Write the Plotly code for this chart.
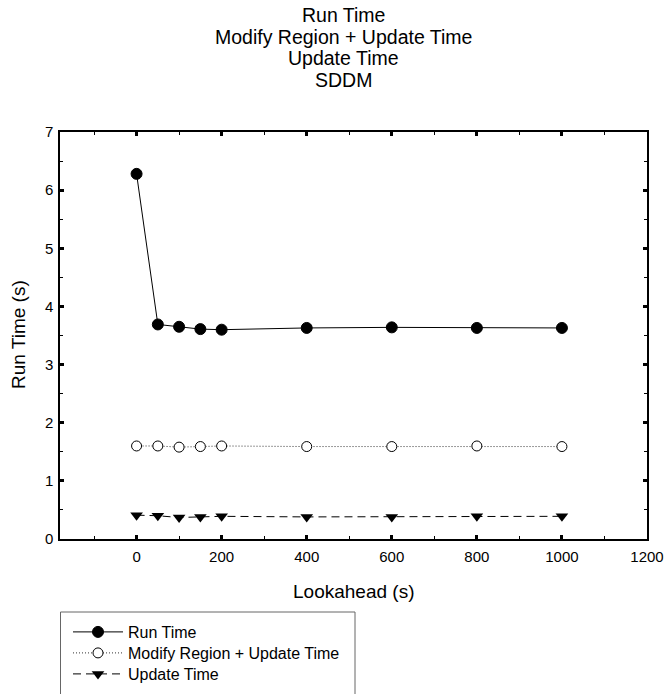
import plotly.graph_objects as go

# Lookahead values (s)
lookahead = [0, 50, 100, 150, 200, 400, 600, 800, 1000]

# Timings (s)
run_time = [6.28, 3.69, 3.65, 3.61, 3.60, 3.63, 3.64, 3.63, 3.63]
modify_update_time = [1.60, 1.60, 1.58, 1.59, 1.60, 1.59, 1.59, 1.60, 1.59]
update_time = [0.41, 0.40, 0.37, 0.38, 0.39, 0.38, 0.38, 0.39, 0.39]

title_lines = ["Run Time", "Modify Region + Update Time", "Update Time", "SDDM"]

FONT = "Liberation Sans, Arial, sans-serif"

W, H = 664, 694
ML, MR, MT, MB = 60, 17, 132, 155
PW, PH = W - ML - MR, H - MT - MB


def px_x(px):
    return (px - ML) / PW


def px_y(py):
    return (H - MB - py) / PH


fig = go.Figure()

fig.add_trace(go.Scatter(
    x=lookahead, y=run_time, name="Run Time", mode="lines+markers",
    legend="legend",
    line=dict(color="black", width=1),
    marker=dict(symbol="circle", size=11, color="black",
                line=dict(color="black", width=1)),
))
fig.add_trace(go.Scatter(
    x=lookahead, y=modify_update_time, name="Modify Region + Update Time",
    mode="lines+markers", legend="legend2",
    line=dict(color="#333333", width=1, dash="1px,2px"),
    marker=dict(symbol="circle", size=10, color="white",
                line=dict(color="black", width=1)),
))
fig.add_trace(go.Scatter(
    x=lookahead, y=update_time, name="Update Time", mode="lines+markers",
    legend="legend3",
    line=dict(color="black", width=1, dash="8px,5px"),
    marker=dict(symbol="triangle-down", size=11, color="black",
                line=dict(color="black", width=0)),
))

axis_common = dict(
    showgrid=False, zeroline=False, showline=True, linecolor="black",
    linewidth=1.5, mirror="ticks", ticks="inside", ticklen=4, tickwidth=2.5,
    tickcolor="black", tickfont=dict(family=FONT, size=15, color="black"),
    automargin=False,
)

fig.update_xaxes(
    range=[-180, 1200], tick0=0, dtick=200, ticklabelstandoff=3,
    minor=dict(dtick=100, ticks="inside", ticklen=3, tickwidth=1,
               tickcolor="black"),
    **axis_common,
)
fig.update_yaxes(
    range=[0, 7], tick0=0, dtick=1, ticklabelstandoff=2,
    minor=dict(dtick=0.5, ticks="inside", ticklen=3, tickwidth=1,
               tickcolor="black"),
    **axis_common,
)

annotations = []
for i, line in enumerate(title_lines):
    annotations.append(dict(
        text=line, xref="paper", yref="paper", x=px_x(343),
        y=px_y(15 + i * 21.7), xanchor="center", yanchor="middle",
        showarrow=False, font=dict(family=FONT, size=19.5, color="black"),
    ))
annotations.append(dict(
    text="Lookahead (s)", xref="paper", yref="paper", x=px_x(354),
    y=px_y(591), xanchor="center", yanchor="middle", showarrow=False,
    font=dict(family=FONT, size=19, color="black"),
))
annotations.append(dict(
    text="Run Time (s)", xref="paper", yref="paper", x=px_x(18),
    y=px_y(335), xanchor="center", yanchor="middle", showarrow=False,
    textangle=-90, font=dict(family=FONT, size=19, color="black"),
))


def legend_row(center_py):
    return dict(
        xref="container", yref="container",
        x=68 / W, y=1 - center_py / H, xanchor="left", yanchor="middle",
        bgcolor="rgba(0,0,0,0)", borderwidth=0,
        font=dict(family=FONT, size=16, color="black"),
        itemwidth=50,
    )


fig.update_layout(
    width=W, height=H,
    margin=dict(l=ML, r=MR, t=MT, b=MB, autoexpand=False),
    paper_bgcolor="white", plot_bgcolor="white",
    annotations=annotations,
    showlegend=True,
    legend=legend_row(632),
    legend2=legend_row(653),
    legend3=legend_row(674),
    shapes=[dict(
        type="rect", xref="paper", yref="paper",
        x0=px_x(60.5), x1=px_x(355), y0=px_y(612), y1=px_y(720),
        line=dict(color="#666666", width=1), fillcolor="rgba(0,0,0,0)",
    )],
)

fig.write_html("out.html")
